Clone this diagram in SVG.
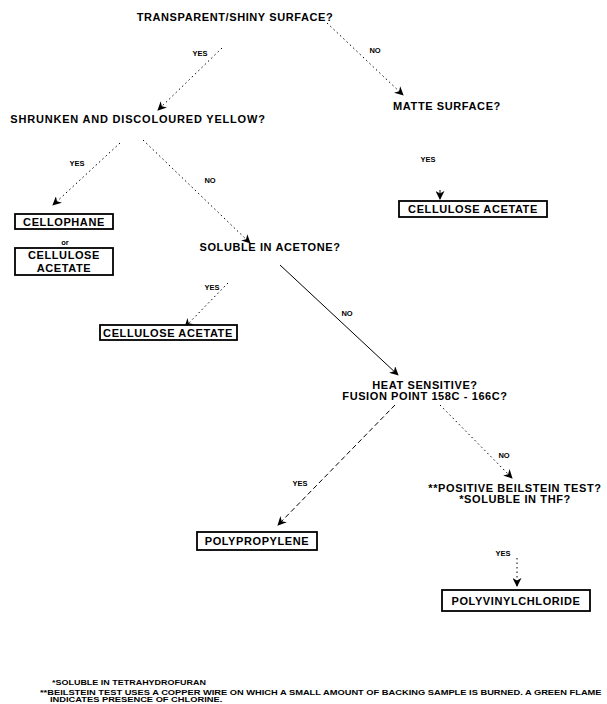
<svg xmlns="http://www.w3.org/2000/svg" width="607" height="704" viewBox="0 0 607 704">
<style>
.q{font-family:"Liberation Sans",Arial,sans-serif;font-weight:bold;font-size:11px;letter-spacing:0.6px;fill:#000;text-anchor:middle}
.l{font-family:"Liberation Sans",Arial,sans-serif;font-weight:bold;font-size:7.5px;fill:#000;text-anchor:middle}
.f{font-family:"Liberation Sans",Arial,sans-serif;font-weight:bold;font-size:6.5px;fill:#000}
.box{fill:#fff;stroke:#000;stroke-width:1.8}
.c{fill:none;stroke:#000;stroke-width:1;marker-end:url(#ah)}
.dot{stroke-dasharray:1.5,3}
.dash{stroke-dasharray:5,3}
</style>
<defs>
<marker id="ah" viewBox="0 0 10 10" refX="9" refY="5" markerWidth="9" markerHeight="9" markerUnits="userSpaceOnUse" orient="auto">
<path d="M0,0 L10,5 L0,10 L3,5 z" fill="#000"/>
</marker>
</defs>
<rect width="607" height="704" fill="#fff"/>
<g id="connectors">
<path class="c dot" d="M222,48 L158,110"/>
<path class="c dot" d="M327,23 L403,95"/>
<path class="c" d="M440,190 L440,199"/>
<path class="c dot" d="M120,143 L53,205"/>
<path class="c dot" d="M143,140 L250,243"/>
<path class="c dot" d="M228,283 L185,327"/>
<path class="c" d="M280,265 L398,375"/>
<path class="c dash" d="M395,405 L278,525"/>
<path class="c dot" d="M440,405 L512,478"/>
<path class="c dot" d="M517,558 L517,586"/>
</g>
<g id="labels">
<text class="l" x="200" y="56">YES</text>
<text class="l" x="375" y="53">NO</text>
<text class="l" x="428" y="162">YES</text>
<text class="l" x="77" y="166">YES</text>
<text class="l" x="210" y="183">NO</text>
<text class="l" x="212" y="290">YES</text>
<text class="l" x="347" y="316">NO</text>
<text class="l" x="300" y="486">YES</text>
<text class="l" x="504" y="458">NO</text>
<text class="l" x="503" y="556">YES</text>
</g>
<g id="n-transparent"><text class="q" x="235" y="21">TRANSPARENT/SHINY SURFACE?</text></g>
<g id="n-matte"><text class="q" x="447" y="110">MATTE SURFACE?</text></g>
<g id="n-shrunken"><text class="q" x="138" y="123" style="letter-spacing:0.8px">SHRUNKEN AND DISCOLOURED YELLOW?</text></g>
<g id="n-cellophane"><rect class="box" x="15" y="214" width="98" height="15"/><text class="q" x="64" y="226">CELLOPHANE</text></g>
<g id="n-or"><text class="l" x="65" y="245">or</text></g>
<g id="n-ca1"><rect class="box" x="15" y="248" width="98" height="27"/><text class="q" x="64" y="259">CELLULOSE</text><text class="q" x="64" y="272">ACETATE</text></g>
<g id="n-ca-matte"><rect class="box" x="399" y="201" width="148" height="16"/><text class="q" x="473" y="213">CELLULOSE ACETATE</text></g>
<g id="n-soluble"><text class="q" x="270" y="251">SOLUBLE IN ACETONE?</text></g>
<g id="n-ca2"><rect class="box" x="100" y="325" width="137" height="15"/><text class="q" x="168" y="337">CELLULOSE ACETATE</text></g>
<g id="n-heat"><text class="q" x="425" y="389">HEAT SENSITIVE?</text><text class="q" x="425" y="400">FUSION POINT 158C - 166C?</text></g>
<g id="n-pp"><rect class="box" x="197" y="532" width="120" height="18"/><text class="q" x="257" y="545">POLYPROPYLENE</text></g>
<g id="n-beilstein"><text class="q" x="515" y="492">**POSITIVE BEILSTEIN TEST?</text><text class="q" x="515" y="503">*SOLUBLE IN THF?</text></g>
<g id="n-pvc"><rect class="box" x="442" y="590" width="148" height="21"/><text class="q" x="516" y="605">POLYVINYLCHLORIDE</text></g>
<g id="footnotes">
<text class="f" transform="translate(52,685) scale(1.38,1)">*SOLUBLE IN TETRAHYDROFURAN</text>
<text class="f" transform="translate(40,695) scale(1.43,1)">**BEILSTEIN TEST USES A COPPER WIRE ON WHICH A SMALL AMOUNT OF BACKING SAMPLE IS BURNED. A GREEN FLAME</text>
<text class="f" transform="translate(50,702) scale(1.43,1)">INDICATES PRESENCE OF CHLORINE.</text>
</g>
</svg>
